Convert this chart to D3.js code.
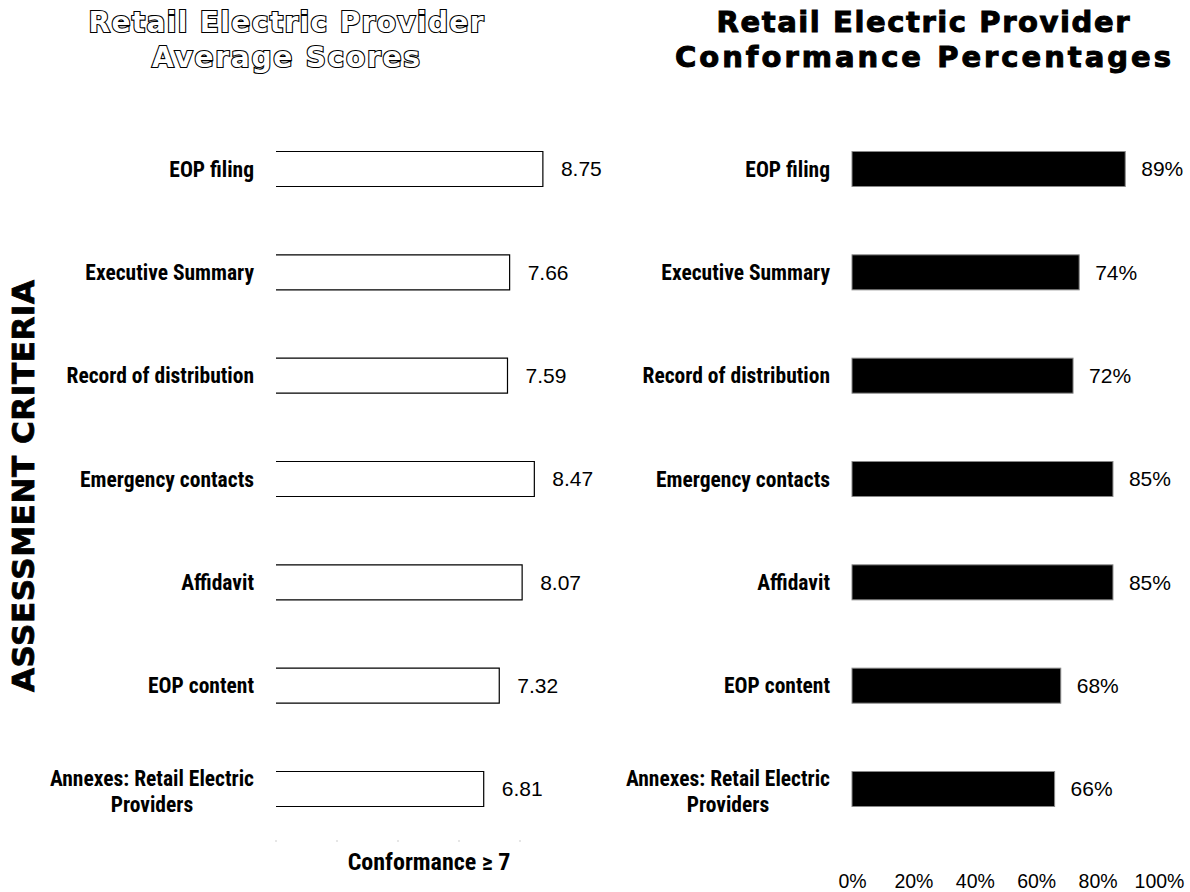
<!DOCTYPE html>
<html>
<head>
<meta charset="utf-8">
<script src="https://cdn.jsdelivr.net/npm/d3@7"></script>
<style>
  body { margin: 0; background: #fff; }
  svg { display: block; }
  .cat { font-family: "Liberation Sans Narrow", "Roboto Condensed", sans-serif; font-weight: bold; font-size: 21.5px; }
  .val { font-family: "Liberation Sans", Arial, sans-serif; font-size: 21px; }
  .title { font-family: "DejaVu Sans", sans-serif; font-weight: bold; }
</style>
</head>
<body>
<div id="chart"></div>
<script>
(function () {
    var categories = [
        'EOP filing',
        'Executive Summary',
        'Record of distribution',
        'Emergency contacts',
        'Affidavit',
        'EOP content',
        'Annexes: Retail Electric Providers'
    ];
    var avgScores = [8.75, 7.66, 7.59, 8.47, 8.07, 7.32, 6.81];
    var conformPct = [89, 74, 72, 85, 85, 68, 66];
    var scoreTicks = [0, 2, 4, 6, 8];
    var pctTicks = [0, 20, 40, 60, 80, 100];

    var W = 1190, H = 892;
    var BAR_H = 35;

    var svg = d3.select('#chart').append('svg')
        .attr('width', W).attr('height', H);

    var y = d3.scalePoint().domain(categories).range([169, 789]);
    var xL = d3.scaleLinear().domain([0, 10]).range([276, 581]);
    var xR = d3.scaleLinear().domain([0, 100]).range([852, 1159]);

    // Titles: each line stretched to the width it has in the original
    function title(lines, cx, size, filled) {
        var t = svg.append('text').attr('class', 'title')
            .attr('text-anchor', 'middle')
            .style('font-size', size + 'px')
            .attr('fill', filled ? '#000' : '#fff')
            .attr('stroke', '#000').attr('stroke-width', filled ? 1 : 2.2)
            .attr('paint-order', 'stroke');
        lines.forEach(function (l, i) {
            t.append('tspan')
                .attr('x', cx).attr('y', 32 + i * 35)
                .attr('textLength', l.w)
                .attr('lengthAdjust', 'spacing')
                .text(l.text);
        });
    }
    title([{ text: 'Retail Electric Provider', w: 395 }, { text: 'Average Scores', w: 268 }], 286, 28, false);
    title([{ text: 'Retail Electric Provider', w: 413 }, { text: 'Conformance Percentages', w: 496 }], 923, 29, true);

    // Vertical axis title
    svg.append('text').attr('class', 'title')
        .attr('transform', 'translate(34,486) rotate(-90)')
        .attr('text-anchor', 'middle')
        .style('font-size', '31px')
        .attr('textLength', 412)
        .attr('lengthAdjust', 'spacing')
        .attr('fill', '#000')
        .attr('stroke', '#000').attr('stroke-width', 0.8)
        .text('ASSESSMENT CRITERIA');

    // Category labels (wrapped, right aligned block, centred lines)
    function catLabels(rightX, maxW) {
        categories.forEach(function (c) {
            var words = c.split(' ');
            var g = svg.append('g');
            var lines = [];
            var cur = '';
            var probe = g.append('text').attr('class', 'cat');
            words.forEach(function (w) {
                var test = cur ? cur + ' ' + w : w;
                probe.text(test);
                if (probe.node().getComputedTextLength() > maxW && cur) {
                    lines.push(cur); cur = w;
                } else cur = test;
            });
            lines.push(cur);
            var widths = lines.map(function (l) { probe.text(l); return probe.node().getComputedTextLength(); });
            probe.remove();
            var blockW = d3.max(widths);
            var lh = 26;
            var y0 = y(c) + (lines.length > 1 ? 2 : 0) - (lines.length - 1) * lh / 2;
            lines.forEach(function (l, i) {
                g.append('text').attr('class', 'cat')
                    .attr('text-anchor', lines.length > 1 ? 'middle' : 'end')
                    .attr('x', lines.length > 1 ? rightX - blockW / 2 : rightX)
                    .attr('y', y0 + i * lh)
                    .attr('dy', '0.35em')
                    .text(l);
            });
        });
    }
    catLabels(254, 215);
    catLabels(830, 215);

    // Left chart: open bars (top, bottom and right edges)
    var left = svg.append('g');
    left.selectAll('path.bar')
        .data(categories)
        .join('path')
        .attr('class', 'bar')
        .attr('fill', 'none')
        .attr('stroke', '#000')
        .attr('stroke-width', 1.2)
        .attr('d', function (d, i) {
            var x0 = xL(0), x1 = xL(avgScores[i]);
            var t = y(d) - BAR_H / 2, b = y(d) + BAR_H / 2;
            return 'M' + x0 + ',' + t + 'H' + x1 + 'V' + b + 'H' + x0;
        });
    left.selectAll('text.val')
        .data(categories)
        .join('text')
        .attr('class', 'val')
        .attr('x', function (d, i) { return xL(avgScores[i]) + 18; })
        .attr('y', function (d) { return y(d); })
        .attr('dy', '0.35em')
        .text(function (d, i) { return avgScores[i].toFixed(2); });
    left.selectAll('circle.tick')
        .data(scoreTicks)
        .join('circle')
        .attr('class', 'tick')
        .attr('cx', function (d) { return xL(d); })
        .attr('cy', 841)
        .attr('r', 0.7)
        .attr('fill', '#bbb');
    svg.append('text').attr('class', 'cat')
        .attr('x', 429).attr('y', 862).attr('dy', '0.35em')
        .attr('text-anchor', 'middle')
        .style('font-size', '24px')
        .text('Conformance \u2265 7');

    // Right chart: solid bars
    var right = svg.append('g');
    right.selectAll('rect.bar')
        .data(categories)
        .join('rect')
        .attr('class', 'bar')
        .attr('x', xR(0))
        .attr('y', function (d) { return y(d) - BAR_H / 2; })
        .attr('width', function (d, i) { return xR(conformPct[i]) - xR(0); })
        .attr('height', BAR_H)
        .attr('fill', '#000')
        .attr('stroke', '#888')
        .attr('stroke-width', 1);
    right.selectAll('text.val')
        .data(categories)
        .join('text')
        .attr('class', 'val')
        .attr('x', function (d, i) { return xR(conformPct[i]) + 16; })
        .attr('y', function (d) { return y(d); })
        .attr('dy', '0.35em')
        .text(function (d, i) { return conformPct[i] + '%'; });

    var axis = d3.axisBottom(xR).tickValues(pctTicks)
        .tickFormat(function (d) { return d + '%'; })
        .tickSize(0).tickPadding(0);
    var ax = svg.append('g').attr('transform', 'translate(0,874)').call(axis);
    ax.select('.domain').remove();
    ax.selectAll('text')
        .attr('class', 'val')
        .style('font-size', '19.5px')
        .attr('fill', '#000');
}());
</script>
</body>
</html>
